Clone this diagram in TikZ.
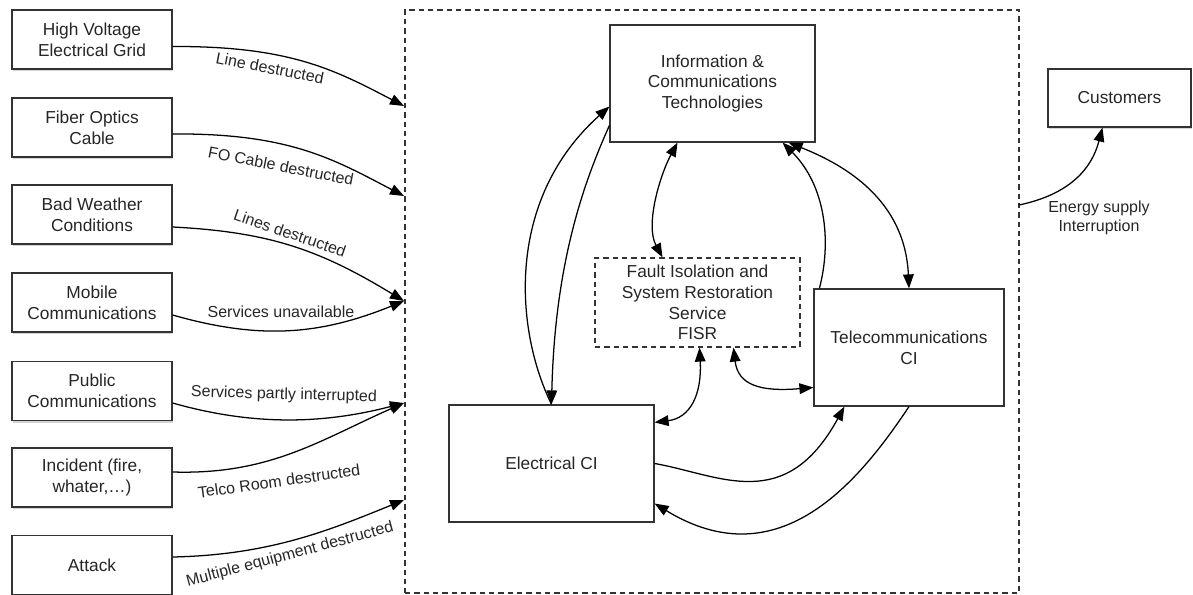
\documentclass[tikz,border=0pt]{standalone}
\usepackage{fontspec}
\setmainfont{Liberation Sans}
\usetikzlibrary{arrows.meta,calc,shadows}
\begin{document}
\begin{tikzpicture}[x=0.75pt,y=-0.75pt,
 box/.style={draw=black!80,line width=0.9pt,fill=white,align=center,font=\fontsize{13}{15.6}\selectfont,text=black!85,inner sep=2pt},
 ext/.style={box,minimum width=120pt,minimum height=44.25pt,drop shadow={shadow xshift=1pt,shadow yshift=-1.5pt,opacity=0.35}},
 ci/.style={box,minimum width=153.75pt,minimum height=87.75pt},
 lbl/.style={font=\fontsize{12}{14.4}\selectfont,text=black!85,inner sep=1pt},
 conn/.style={line width=0.95pt,-{Triangle[length=10.5pt,width=8pt]}},
 twoway/.style={line width=0.95pt,{Triangle[length=10.5pt,width=8pt]}-{Triangle[length=10.5pt,width=8pt]}},
 dashbox/.style={draw=black!80,line width=0.9pt,dash pattern=on 4pt off 3pt}]

\useasboundingbox (0,0) rectangle (1193,595);

% system container
\node[dashbox,minimum width=460.5pt,minimum height=437.25pt,inner sep=0pt] (sys) at (712,301.5) {};

% external boxes
\node[ext] (b1) at (92,39.5) {High Voltage\\Electrical Grid};
\node[ext] (b2) at (92,127.5) {Fiber Optics\\Cable};
\node[ext] (b3) at (92,214.5) {Bad Weather\\Conditions};
\node[ext] (b4) at (92,302.5) {Mobile\\Communications};
\node[ext] (b5) at (92,391) {Public\\Communications};
\node[ext] (b6) at (92,477.5) {Incident (fire,\\whater,\dots)};
\node[ext] (b7) at (92,565) {Attack};
\node[ext,minimum width=107.25pt,minimum height=43.5pt] (cust) at (1119.5,98) {Customers};

% inner boxes
\node[ci] (ict) at (712.5,83.5) {Information \&\\Communications\\Technologies};
\node[box,dashbox,minimum width=153.75pt,minimum height=66.75pt] (fisr) at (697.5,302.5) {Fault Isolation and\\System Restoration\\Service\\FISR};
\node[ci,minimum width=142.5pt] (tel) at (909,347.5) {Telecommunications\\CI};
\node[ci] (elec) at (551.5,463.5) {Electrical CI};

% entry points on the container
\coordinate (in1) at (404,106);
\coordinate (in2) at (404,196);
\coordinate (in3) at (404,301);
\coordinate (in5) at (404,403);
\coordinate (in7) at (404,500);
\coordinate (out1) at (1019,205);

% external connectors
\draw[conn] ($(b1.east)+(0,7)$) .. controls (290,46) and (335,70) .. (in1);
\draw[conn] ($(b2.east)+(0,6.5)$) .. controls (290,133) and (335,160) .. (in2);
\draw[conn] ($(b3.east)+(0,12.5)$) .. controls (270,232) and (320,250) .. (in3);
\draw[conn] ($(b4.east)+(0,12.5)$) .. controls (260,340) and (320,335) .. (in3);
\draw[conn] ($(b5.east)+(0,12)$) .. controls (250,425) and (320,425) .. (in5);
\draw[conn] ($(b6.east)+(0,-5.5)$) .. controls (270,475) and (320,440) .. (in5);
\draw[conn] ($(b7.east)+(0,-8)$) .. controls (270,555) and (330,530) .. (in7);
\draw[conn] (out1) .. controls (1062,196) and (1090,175) .. ($(cust.south)+(-17,0)$);

% labels
\node[lbl,rotate=-11] (l1) at (270,68) {Line destructed};
\node[lbl,rotate=-11] (l2) at (281,166) {FO Cable destructed};
\node[lbl,rotate=-19] (l3) at (290,233) {Lines destructed};
\node[lbl] (l4) at (281,312) {Services unavailable};
\node[lbl,rotate=-1.5] (l5) at (284,395) {Services partly interrupted};
\node[lbl,rotate=8] (l6) at (279,481) {Telco Room destructed};
\node[lbl,rotate=15] (l7) at (290,555) {Multiple equipment destructed};
\node[lbl,align=center,font=\fontsize{12}{14.4}\selectfont] (l8) at (1099,218) {Energy supply\\Interruption};

% inner connectors
\draw[conn] (elec.north) .. controls (515,330) and (505,200) .. ($(ict.west)+(0,23)$);
\draw[conn] ($(ict.west)+(0,42)$) .. controls (585,180) and (555,260) .. (elec.north);
\draw[twoway] ($(ict.south)+(-35,0)$) .. controls (660,175) and (645,225) .. ($(fisr.north)+(-35,0)$);
\draw[twoway] ($(ict.south east)+(-27,0)$) .. controls (845,165) and (905,200) .. (tel.north);
\draw[conn] ($(tel.north west)+(6,0)$) .. controls (832,240) and (825,185) .. ($(ict.south east)+(-33,0)$);
\draw[twoway] ($(fisr.south)+(2,0)$) .. controls (702,395) and (690,418) .. ($(elec.north east)+(0,18)$);
\draw[twoway] ($(fisr.south)+(36,0)$) .. controls (738,385) and (760,392) .. ($(tel.west)+(0,40)$);
\draw[conn] (elec.east) .. controls (720,475) and (785,515) .. ($(tel.south west)+(31,0)$);
\draw[conn] (tel.south) .. controls (860,480) and (780,580) .. ($(elec.east)+(0,40)$);
\end{tikzpicture}
\end{document}
